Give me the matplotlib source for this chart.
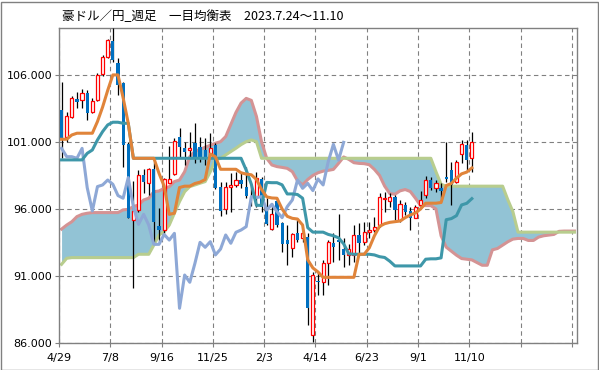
import matplotlib
matplotlib.use("Agg")
import matplotlib.pyplot as plt
from matplotlib.patches import Rectangle
import numpy as np

# --- dane: świece tygodniowe AUD/JPY (4/29/2022 .. 11/10/2023) ---
opens = [103.39, 101.4, 102.84, 104.21, 104.11, 104.68, 103.21, 104.13, 106.05, 107.37,
         108.54, 106.87, 105.38, 100.82, 95.18, 95.92, 98.54, 97.91, 98.96, 94.73,
         94.43, 97.92, 98.61, 101.35, 100.58, 100.38, 100.95, 100.65, 100.4, 99.9,
         100.77, 97.62, 95.97, 97.64, 97.79, 98.16, 97.62, 97.0, 97.0, 98.21,
         96.17, 94.5, 96.6, 94.93, 93.68, 93.11, 94.18, 93.81, 93.93, 86.6,
         90.63, 90.53, 91.94, 93.44, 93.68, 93.01, 92.6, 92.57, 94.06, 93.56,
         94.26, 94.43, 94.8, 96.75, 96.6, 96.92, 95.18, 96.3, 95.85, 95.35,
         96.3, 97.04, 98.16, 97.54, 97.59, 98.39, 98.91, 98.04, 100.08, 100.77, 99.83]
highs = [105.45, 103.2, 104.46, 104.75, 104.95, 104.88, 104.26, 106.12, 107.49, 108.69,
         109.48, 107.24, 105.5, 101.02, 98.09, 98.91, 98.98, 99.03, 99.53, 96.05,
         98.28, 100.73, 101.27, 102.02, 101.02, 101.77, 102.39, 101.4, 101.27, 101.65,
         100.9, 98.04, 98.04, 98.7, 98.78, 98.78, 99.16, 97.79, 98.78, 98.41,
         96.8, 96.42, 96.8, 95.05, 94.8, 94.18, 95.18, 94.43, 94.18, 91.32,
         91.32, 92.19, 93.68, 94.18, 95.6, 93.81, 93.36, 94.8, 94.93, 95.05,
         95.05, 95.43, 97.17, 97.29, 97.17, 97.04, 96.67, 96.55, 96.17, 96.3,
         97.34, 98.46, 98.41, 98.16, 97.91, 100.97, 99.53, 99.65, 101.15, 101.15, 101.77]
lows = [99.78, 101.0, 102.76, 103.5, 103.5, 102.64, 103.14, 104.06, 105.95, 107.24,
        107.0, 104.5, 99.16, 95.3, 90.08, 95.8, 97.2, 97.04, 93.56, 93.56,
        94.06, 97.9, 98.54, 99.9, 99.28, 99.78, 99.4, 99.53, 99.28, 99.78,
        97.49, 95.5, 95.6, 95.8, 97.67, 97.54, 96.8, 96.2, 96.17, 95.8,
        94.8, 94.43, 94.68, 92.8, 91.82, 92.44, 93.56, 93.56, 87.34, 86.1,
        89.6, 89.58, 90.33, 92.07, 92.2, 91.7, 91.82, 92.07, 92.57, 93.31,
        93.81, 94.3, 94.68, 95.8, 96.17, 95.18, 95.05, 95.55, 94.43, 95.3,
        96.05, 96.8, 97.41, 97.29, 96.8, 98.04, 96.3, 97.91, 99.4, 98.91, 98.78]
closes = [101.27, 102.96, 104.26, 104.01, 104.63, 103.14, 104.06, 106.0, 107.32, 108.59,
          107.12, 105.25, 100.77, 95.35, 95.85, 98.54, 97.99, 98.96, 95.05, 94.43,
          98.24, 98.24, 101.1, 100.65, 100.23, 100.52, 99.9, 99.9, 99.78, 100.52,
          97.59, 95.85, 97.67, 97.79, 98.16, 97.84, 97.0, 96.8, 98.34, 96.17,
          94.85, 95.6, 94.8, 93.36, 93.36, 94.1, 93.68, 94.18, 88.59, 91.07,
          90.53, 91.94, 93.51, 93.14, 93.56, 92.57, 93.01, 94.06, 93.44, 94.26,
          94.43, 94.68, 96.92, 96.85, 96.92, 95.92, 96.35, 95.8, 95.35, 96.17,
          96.67, 98.16, 97.54, 97.91, 97.37, 98.24, 97.79, 99.53, 100.82, 99.65, 100.97]

# --- linie wskaźnika ---
tenkan = [101.2, 101.2, 101.52, 101.65, 101.65, 101.65, 101.65, 102.52, 103.6, 104.85,
          106.0, 106.0, 104.3, 102.4, 99.78, 99.78, 99.78, 99.78, 99.78, 98.66,
          97.7, 95.6, 95.68, 97.6, 97.7, 97.7, 97.9, 98.0, 98.2, 100.1,
          99.9, 98.96, 98.96, 98.96, 98.96, 98.7, 98.6, 98.55, 98.2, 97.45,
          96.9, 96.82, 96.8, 96.0, 95.45, 95.3, 95.25, 94.8, 92.2, 91.6,
          91.3, 90.9, 90.9, 90.9, 90.9, 90.9, 90.9, 90.9, 92.62, 92.62,
          93.1, 94.0, 94.7, 94.9, 95.0, 95.05, 95.1, 95.35, 95.55, 95.7,
          96.0, 96.43, 96.43, 96.43, 96.48, 97.75, 97.9, 98.3, 98.62, 98.75, 99.06]
kijun = [99.66, 99.66, 99.66, 99.66, 99.66, 100.15, 100.4, 101.15, 101.77, 102.27,
         102.47, 102.47, 102.39, 102.39, 99.78, 99.78, 99.78, 99.78, 99.78, 99.78,
         99.78, 99.78, 99.78, 99.78, 99.78, 99.78, 99.78, 99.78, 99.78, 99.78,
         99.78, 99.78, 99.78, 99.78, 99.78, 99.78, 98.9, 97.85, 96.27, 96.27,
         97.98, 97.96, 97.96, 97.8, 97.12, 97.12, 97.08, 96.8, 94.6, 94.27,
         94.27, 94.27, 94.1, 94.0, 93.85, 93.4, 92.66, 92.62, 92.62, 92.62,
         92.62, 92.57, 92.44, 92.38, 92.1, 91.75, 91.75, 91.75, 91.75, 91.75,
         91.75, 92.25, 92.28, 92.28, 92.35, 95.2, 95.28, 95.5, 96.3, 96.42, 96.77]
senkou_a = [94.5, 94.8, 95.05, 95.43, 95.6, 95.68, 95.73, 95.73, 95.73, 95.73,
            95.73, 95.73, 95.93, 95.97, 96.17, 96.3, 96.67, 96.8, 97.29, 97.34,
            97.54, 97.66, 98.04, 98.16, 98.78, 99.9, 100.3, 100.45, 100.6, 100.75,
            100.9, 101.02, 101.4, 102.3, 103.2, 103.9, 104.25, 104.1, 102.9, 101.0,
            99.78, 99.28, 99.16, 99.1, 99.03, 98.78, 98.1, 97.8, 98.2, 98.5,
            98.7, 98.82, 98.88, 98.95, 99.4, 99.88, 99.7, 99.45, 99.4, 99.38,
            99.3, 98.95, 98.5, 97.7, 97.15, 97.1, 97.35, 97.45, 97.3, 96.8,
            96.25, 96.25, 96.25, 96.0, 94.0, 93.15, 92.85, 92.55, 92.3, 92.25,
            92.2, 92.0, 91.8, 91.8, 92.95, 93.05, 93.3, 93.55, 93.75, 93.8,
            93.8, 93.65, 93.65, 93.9, 94.0, 94.05, 94.1, 94.33, 94.35, 94.35, 94.35]
senkou_b = [91.87, 92.32, 92.37, 92.37, 92.37, 92.37, 92.37, 92.37, 92.37, 92.37,
            92.37, 92.37, 92.37, 92.37, 92.37, 92.62, 92.62, 92.62, 93.31, 94.06,
            94.3, 94.8, 95.68, 96.55, 97.29, 97.67, 97.79, 97.92, 98.04, 98.78,
            99.66, 99.78, 100.03, 100.28, 100.53, 100.8, 101.02, 101.15, 101.02, 99.78,
            99.78, 99.78, 99.78, 99.78, 99.78, 99.78, 99.78, 99.78, 99.78, 99.78,
            99.78, 99.78, 99.78, 99.78, 99.78, 99.78, 99.78, 99.78, 99.78, 99.78,
            99.78, 99.78, 99.78, 99.78, 99.78, 99.78, 99.78, 99.78, 99.78, 99.78,
            99.78, 99.78, 99.78, 98.78, 97.84, 97.7, 97.7, 97.7, 97.7, 97.7,
            97.7, 97.7, 97.7, 97.7, 97.7, 97.7, 97.7, 96.7, 95.8, 94.27,
            94.27, 94.27, 94.27, 94.27, 94.27, 94.27, 94.27, 94.27, 94.27, 94.27, 94.27]

tick_labels = ["4/29", "7/8", "9/16", "11/25", "2/3", "4/14", "6/23", "9/1", "11/10", "", ""]
y_ticks = [86, 91, 96, 101, 106]
title = "豪ドル／円_週足　一目均衡表　2023.7.24～11.10"

# --- rysowanie ---
fig = plt.figure(figsize=(5.99, 3.70), dpi=100)
ax = fig.add_axes([59 / 599, 1 - 343 / 370, (577 - 59) / 599, (343 - 28) / 370])

x = np.arange(len(closes)) + 0.5
xs = np.arange(len(senkou_a)) + 0.5
chikou = closes[25:]
xc = np.arange(len(chikou)) + 0.5

ax.fill_between(xs, senkou_a, senkou_b, color="#92C3D5", lw=0, zorder=1)
ax.plot(xs, senkou_a, color="#D49394", lw=2.2, zorder=2, solid_joinstyle="round")
ax.plot(xs, senkou_b, color="#B8CD8E", lw=2.2, zorder=2, solid_joinstyle="round")

o = np.array(opens)
c = np.array(closes)
up = c >= o
ax.vlines(x, lows, highs, color="black", lw=0.9, zorder=3)
ax.bar(x[up], (c - o)[up], bottom=o[up], width=0.62, facecolor="white",
       edgecolor="#FF0000", lw=0.9, zorder=4)
ax.bar(x[~up], (o - c)[~up], bottom=c[~up], width=0.62, color="#0070C0", lw=0, zorder=4)

ax.plot(xc, chikou, color="#8EA8D6", lw=2.2, zorder=5, solid_joinstyle="round")
ax.plot(x, kijun, color="#3E97A9", lw=2.2, zorder=5, solid_joinstyle="round")
ax.plot(x, tenkan, color="#E0843A", lw=2.2, zorder=6, solid_joinstyle="round")

ax.set_xlim(0, 101)
ax.set_ylim(86, 109.5)
ax.set_xticks(np.arange(0, 101, 10))
ax.set_xticklabels(tick_labels)
ax.set_yticks(y_ticks)
ax.set_yticklabels([f"{v:.3f}" for v in y_ticks])
ax.grid(True, color="#808080", linestyle=(0, (4, 3)), lw=0.8)
ax.set_axisbelow(True)
ax.tick_params(direction="out", length=3, color="#808080", labelsize=8, pad=2)
ax.tick_params(axis="x", pad=4)
for s in ax.spines.values():
    s.set_color("#808080")
    s.set_linewidth(1)

fig.text(62 / 599, 1 - 17 / 370, title, fontsize=9, va="center", ha="left",
         family=["Noto Sans CJK JP", "DejaVu Sans"])
fig.patches.append(Rectangle((0.5 / 599, 0.5 / 370), 597 / 599, 368 / 370,
                             transform=fig.transFigure, fill=False,
                             edgecolor="#808080", lw=1))

fig.savefig("out.png", dpi=100)
